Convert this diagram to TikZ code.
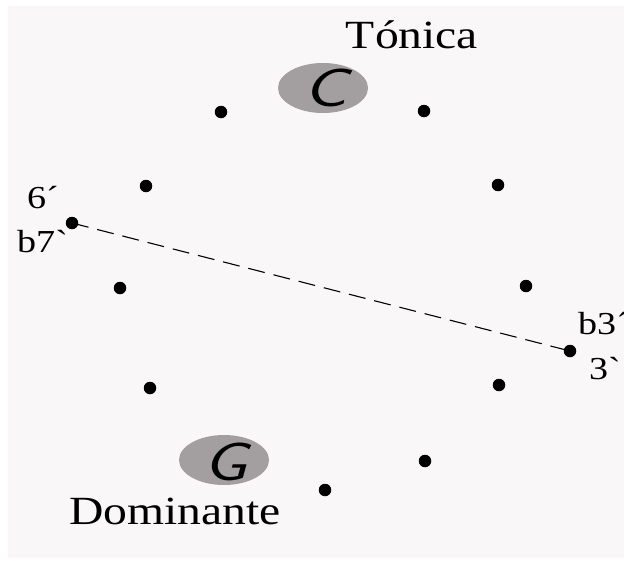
\documentclass[tikz,border=0pt]{standalone}
\usetikzlibrary{shapes.geometric}
\usepackage{graphicx}
\usepackage{fontspec}
\setmainfont[FakeStretch=1.19,Ligatures=TeXOff]{Liberation Serif}
\definecolor{bgc}{HTML}{F9F7F8}
\definecolor{ellc}{HTML}{A39E9F}
\begin{document}
\begin{tikzpicture}[x=1pt,y=-1pt,
  dotn/.style={circle,fill=black,inner sep=0pt,minimum size=12.5pt},
  keyell/.style={ellipse,fill=ellc,minimum width=90pt,minimum height=50pt,inner sep=0pt},
  keylbl/.style={inner sep=0pt,font=\fontsize{54}{54}\selectfont\sffamily\itshape},
  bigtxt/.style={inner sep=0pt,font=\fontsize{40}{44}\selectfont},
  smalltxt/.style={inner sep=0pt,font=\fontsize{32}{34}\selectfont},
  dashline/.style={dash pattern=on 17pt off 9pt,line width=1.1pt}]
\useasboundingbox (0,0) rectangle (624,562);
\fill[bgc] (8,6) rectangle (624,558);
% key ellipses
\node[keyell] (C) at (323,88) {};
\node[keylbl] (Cl) at (325,88) {\scalebox{1.35}[1]{C}};
\node[keyell] (G) at (224,460) {};
\node[keylbl] (Gl) at (226,462) {\scalebox{1.3}[1]{G}};
% dots
\node[dotn] (d1) at (221,112) {};
\node[dotn] (d2) at (424,111) {};
\node[dotn] (d3) at (146,186) {};
\node[dotn] (d4) at (498,185) {};
\node[dotn] (d5) at (120,288) {};
\node[dotn] (d6) at (526,286) {};
\node[dotn] (d7) at (150,388) {};
\node[dotn] (d8) at (499,385) {};
\node[dotn] (d9) at (425,461) {};
\node[dotn] (d10) at (325,490) {};
\node[dotn] (b7) at (72,223) {};
\node[dotn] (b3) at (570,351) {};
\draw[dashline] (b7.center) -- (b3.center);
% labels
\node[bigtxt,anchor=base] (ton) at (412,48) {Tónica};
\node[bigtxt,anchor=base] (dom) at (175,524) {Dominante};
\node[smalltxt,anchor=base west] (l6) at (27,208) {6´};
\node[smalltxt,anchor=base west] (l7) at (17,252) {b7`};
\node[smalltxt,anchor=base west] (l3b) at (578,334) {b3´};
\node[smalltxt,anchor=base west] (l3) at (589,379) {3`};
\end{tikzpicture}
\end{document}
